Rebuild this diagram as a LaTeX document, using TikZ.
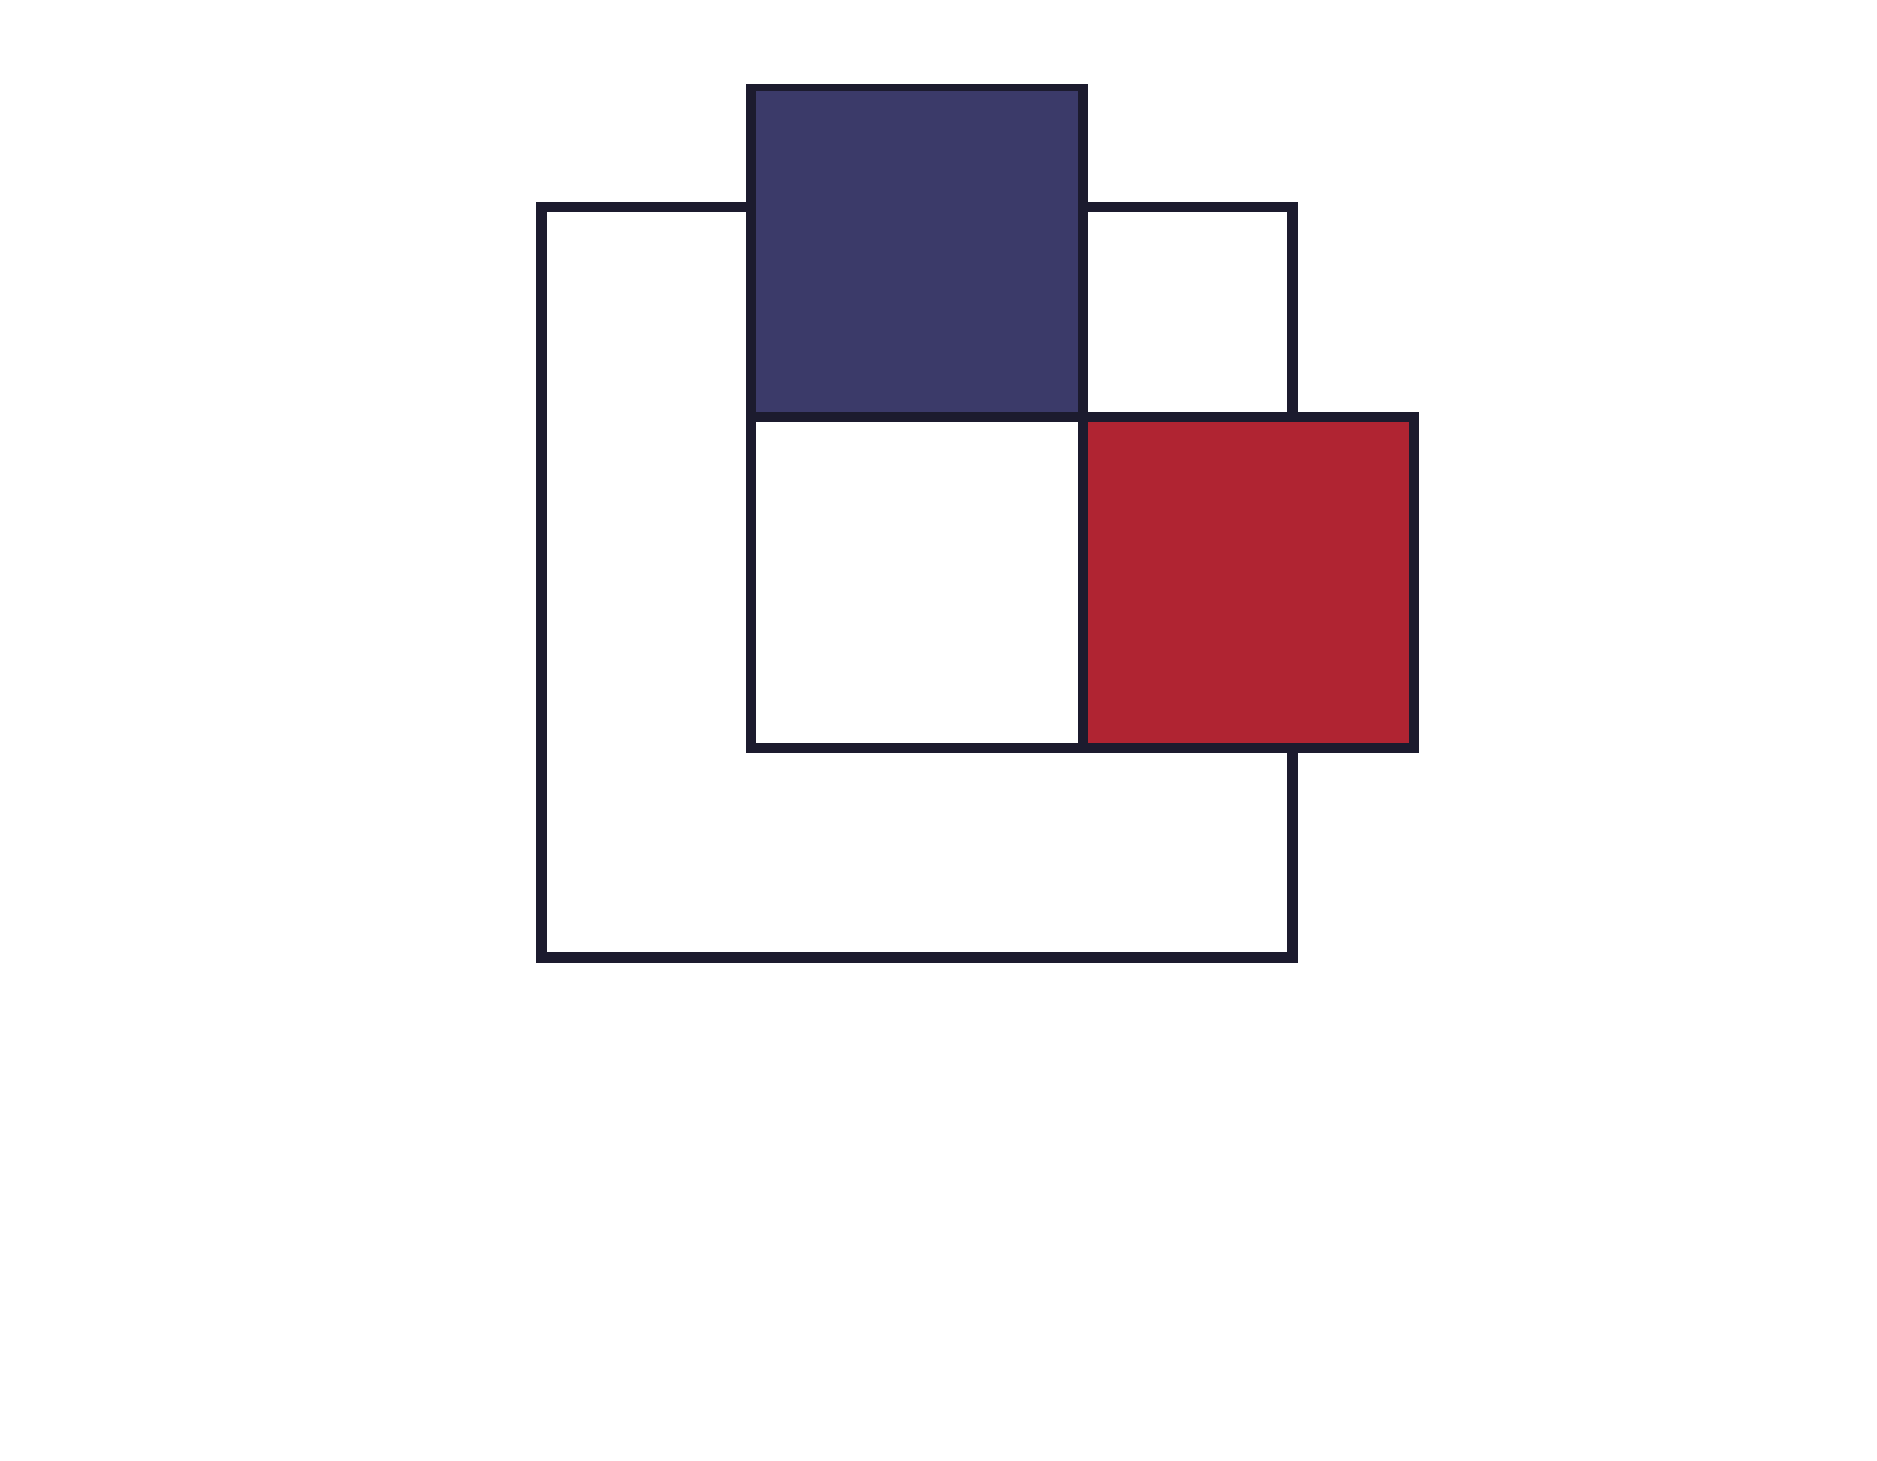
\documentclass[tikz,border=0pt]{standalone}
\definecolor{inkdark}{HTML}{1C1B2E}
\definecolor{boxblue}{HTML}{3B3A69}
\definecolor{boxred}{HTML}{B02432}
\tikzset{
  frame/.style={draw=inkdark, line width=10.5pt, line join=miter},
  cell/.style={draw=inkdark, line width=10pt, line join=miter},
}
\begin{document}
\begin{tikzpicture}[x=1pt, y=-1pt]
  \useasboundingbox[fill=white] (0,0) rectangle (1877,1461);
  % big outer square
  \draw[frame] (541.3,207) rectangle (1292.5,957.5);
  % middle white square
  \draw[cell, fill=white] (751,416.7) rectangle (1082.7,748);
  % red square
  \draw[cell, fill=boxred] (1082.7,416.7) rectangle (1414,748);
  % blue square (top edge half clipped)
  \begin{scope}
    \clip (0,85) rectangle (1877,1461);
    \draw[cell, fill=boxblue] (751,85.7) rectangle (1083,416.7);
  \end{scope}
\end{tikzpicture}
\end{document}
